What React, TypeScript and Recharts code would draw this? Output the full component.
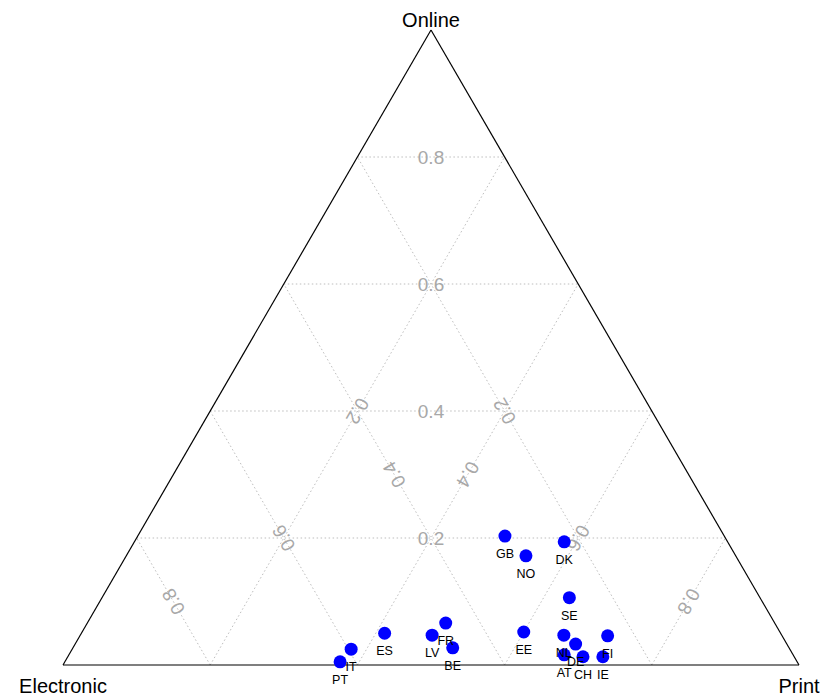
import React from "react";
import {
  ScatterChart,
  Scatter,
  XAxis,
  YAxis,
  ReferenceLine,
} from "recharts";

// ternary composition (shares of online / print / electronic)
const countries = ["GB", "NO", "DK", "SE", "EE", "NL", "AT", "DE", "CH", "IE", "FI", "PT", "IT", "ES", "LV", "FR", "BE"];
const online = [0.203, 0.172, 0.194, 0.106, 0.052, 0.047, 0.016, 0.033, 0.013, 0.013, 0.046, 0.005, 0.025, 0.05, 0.047, 0.066, 0.027];
const print = [0.499, 0.543, 0.584, 0.635, 0.6, 0.657, 0.673, 0.68, 0.7, 0.727, 0.717, 0.374, 0.379, 0.412, 0.478, 0.487, 0.516];
const electronic = online.map((o, i) => 1 - o - print[i]);

const gridTicks = [0.2, 0.4, 0.6, 0.8];
const tickLabels = ["0.2", "0.4", "0.6", "0.8"];
const cornerTitles = ["Electronic", "Print", "Online"];

const FONT = "'Liberation Sans', Arial, Helvetica, sans-serif";
const GRID = "#bdbdbd";
const TICK = "#a8a8a8";

// x = print + online / 2, y = online (y axis scaled so the triangle is equilateral)
const toXY = (o: number, p: number) => ({ x: p + o / 2, y: o });

const points = countries.map((name, i) => ({
  name,
  e: electronic[i],
  ...toXY(online[i], print[i]),
}));

// grid segments for each of the three components
const gridSegments = gridTicks.flatMap((k) => [
  // online = k (horizontal)
  [toXY(k, 0), toXY(k, 1 - k)],
  // print = k (parallel to the left side)
  [toXY(0, k), toXY(1 - k, k)],
  // electronic = k (parallel to the right side)
  [toXY(0, 1 - k), toXY(1 - k, 0)],
]);

const outline = [
  [toXY(0, 0), toXY(0, 1)],
  [toXY(0, 1), toXY(1, 0)],
  [toXY(1, 0), toXY(0, 0)],
];

// tick labels sit on the medians of the triangle
const tickData = gridTicks.flatMap((k, i) => [
  { ...toXY(k, (1 - k) / 2), label: tickLabels[i], rot: 0 },
  { ...toXY((1 - k) / 2, k), label: tickLabels[i], rot: 120 },
  { ...toXY((1 - k) / 2, (1 - k) / 2), label: tickLabels[i], rot: -120 },
]);

const titleData = [
  { ...toXY(0, 0), label: cornerTitles[0], dy: 28 },
  { ...toXY(0, 1), label: cornerTitles[1], dy: 28 },
  { ...toXY(1, 0), label: cornerTitles[2], dy: -3 },
];

const TickText = (props: any) => {
  const { cx, cy, payload } = props;
  return (
    <text
      x={cx}
      y={cy}
      transform={`rotate(${payload.rot}, ${cx}, ${cy})`}
      textAnchor="middle"
      dominantBaseline="central"
      fontSize={19}
      fontFamily={FONT}
      fill={TICK}
    >
      {payload.label}
    </text>
  );
};

const TitleText = (props: any) => {
  const { cx, cy, payload } = props;
  return (
    <text x={cx} y={cy + payload.dy} textAnchor="middle" fontSize={20} fontFamily={FONT} fill="#000">
      {payload.label}
    </text>
  );
};

const Dot = (props: any) => {
  const { cx, cy } = props;
  return <circle cx={cx} cy={cy} r={6.5} fill="#0000ff" />;
};

const PointLabel = (props: any) => {
  const { cx, cy, payload } = props;
  return (
    <text x={cx} y={cy + 22} textAnchor="middle" fontSize={12.5} fontFamily={FONT} fill="#000">
      {payload.name}
    </text>
  );
};

export default function App() {
  return (
    <div style={{ position: "absolute", left: 0, top: 0, width: 838, height: 699, background: "#fff" }}>
      <ScatterChart width={838} height={699} margin={{ top: 30, right: 39, bottom: 34, left: 63 }}>
        <XAxis type="number" dataKey="x" domain={[0, 1]} hide />
        <YAxis type="number" dataKey="y" domain={[0, 1]} hide />
        {gridSegments.map((seg, i) => (
          <ReferenceLine
            key={`g${i}`}
            segment={seg}
            stroke={GRID}
            strokeDasharray="1.5 2.5"
            ifOverflow="visible"
          />
        ))}
        {outline.map((seg, i) => (
          <ReferenceLine key={`o${i}`} segment={seg} stroke="#000" strokeWidth={1.2} ifOverflow="visible" />
        ))}
        <Scatter data={tickData} shape={TickText} isAnimationActive={false} />
        <Scatter data={titleData} shape={TitleText} isAnimationActive={false} />
        <Scatter data={points} shape={Dot} isAnimationActive={false} />
        <Scatter data={points} shape={PointLabel} isAnimationActive={false} />
      </ScatterChart>
    </div>
  );
}
